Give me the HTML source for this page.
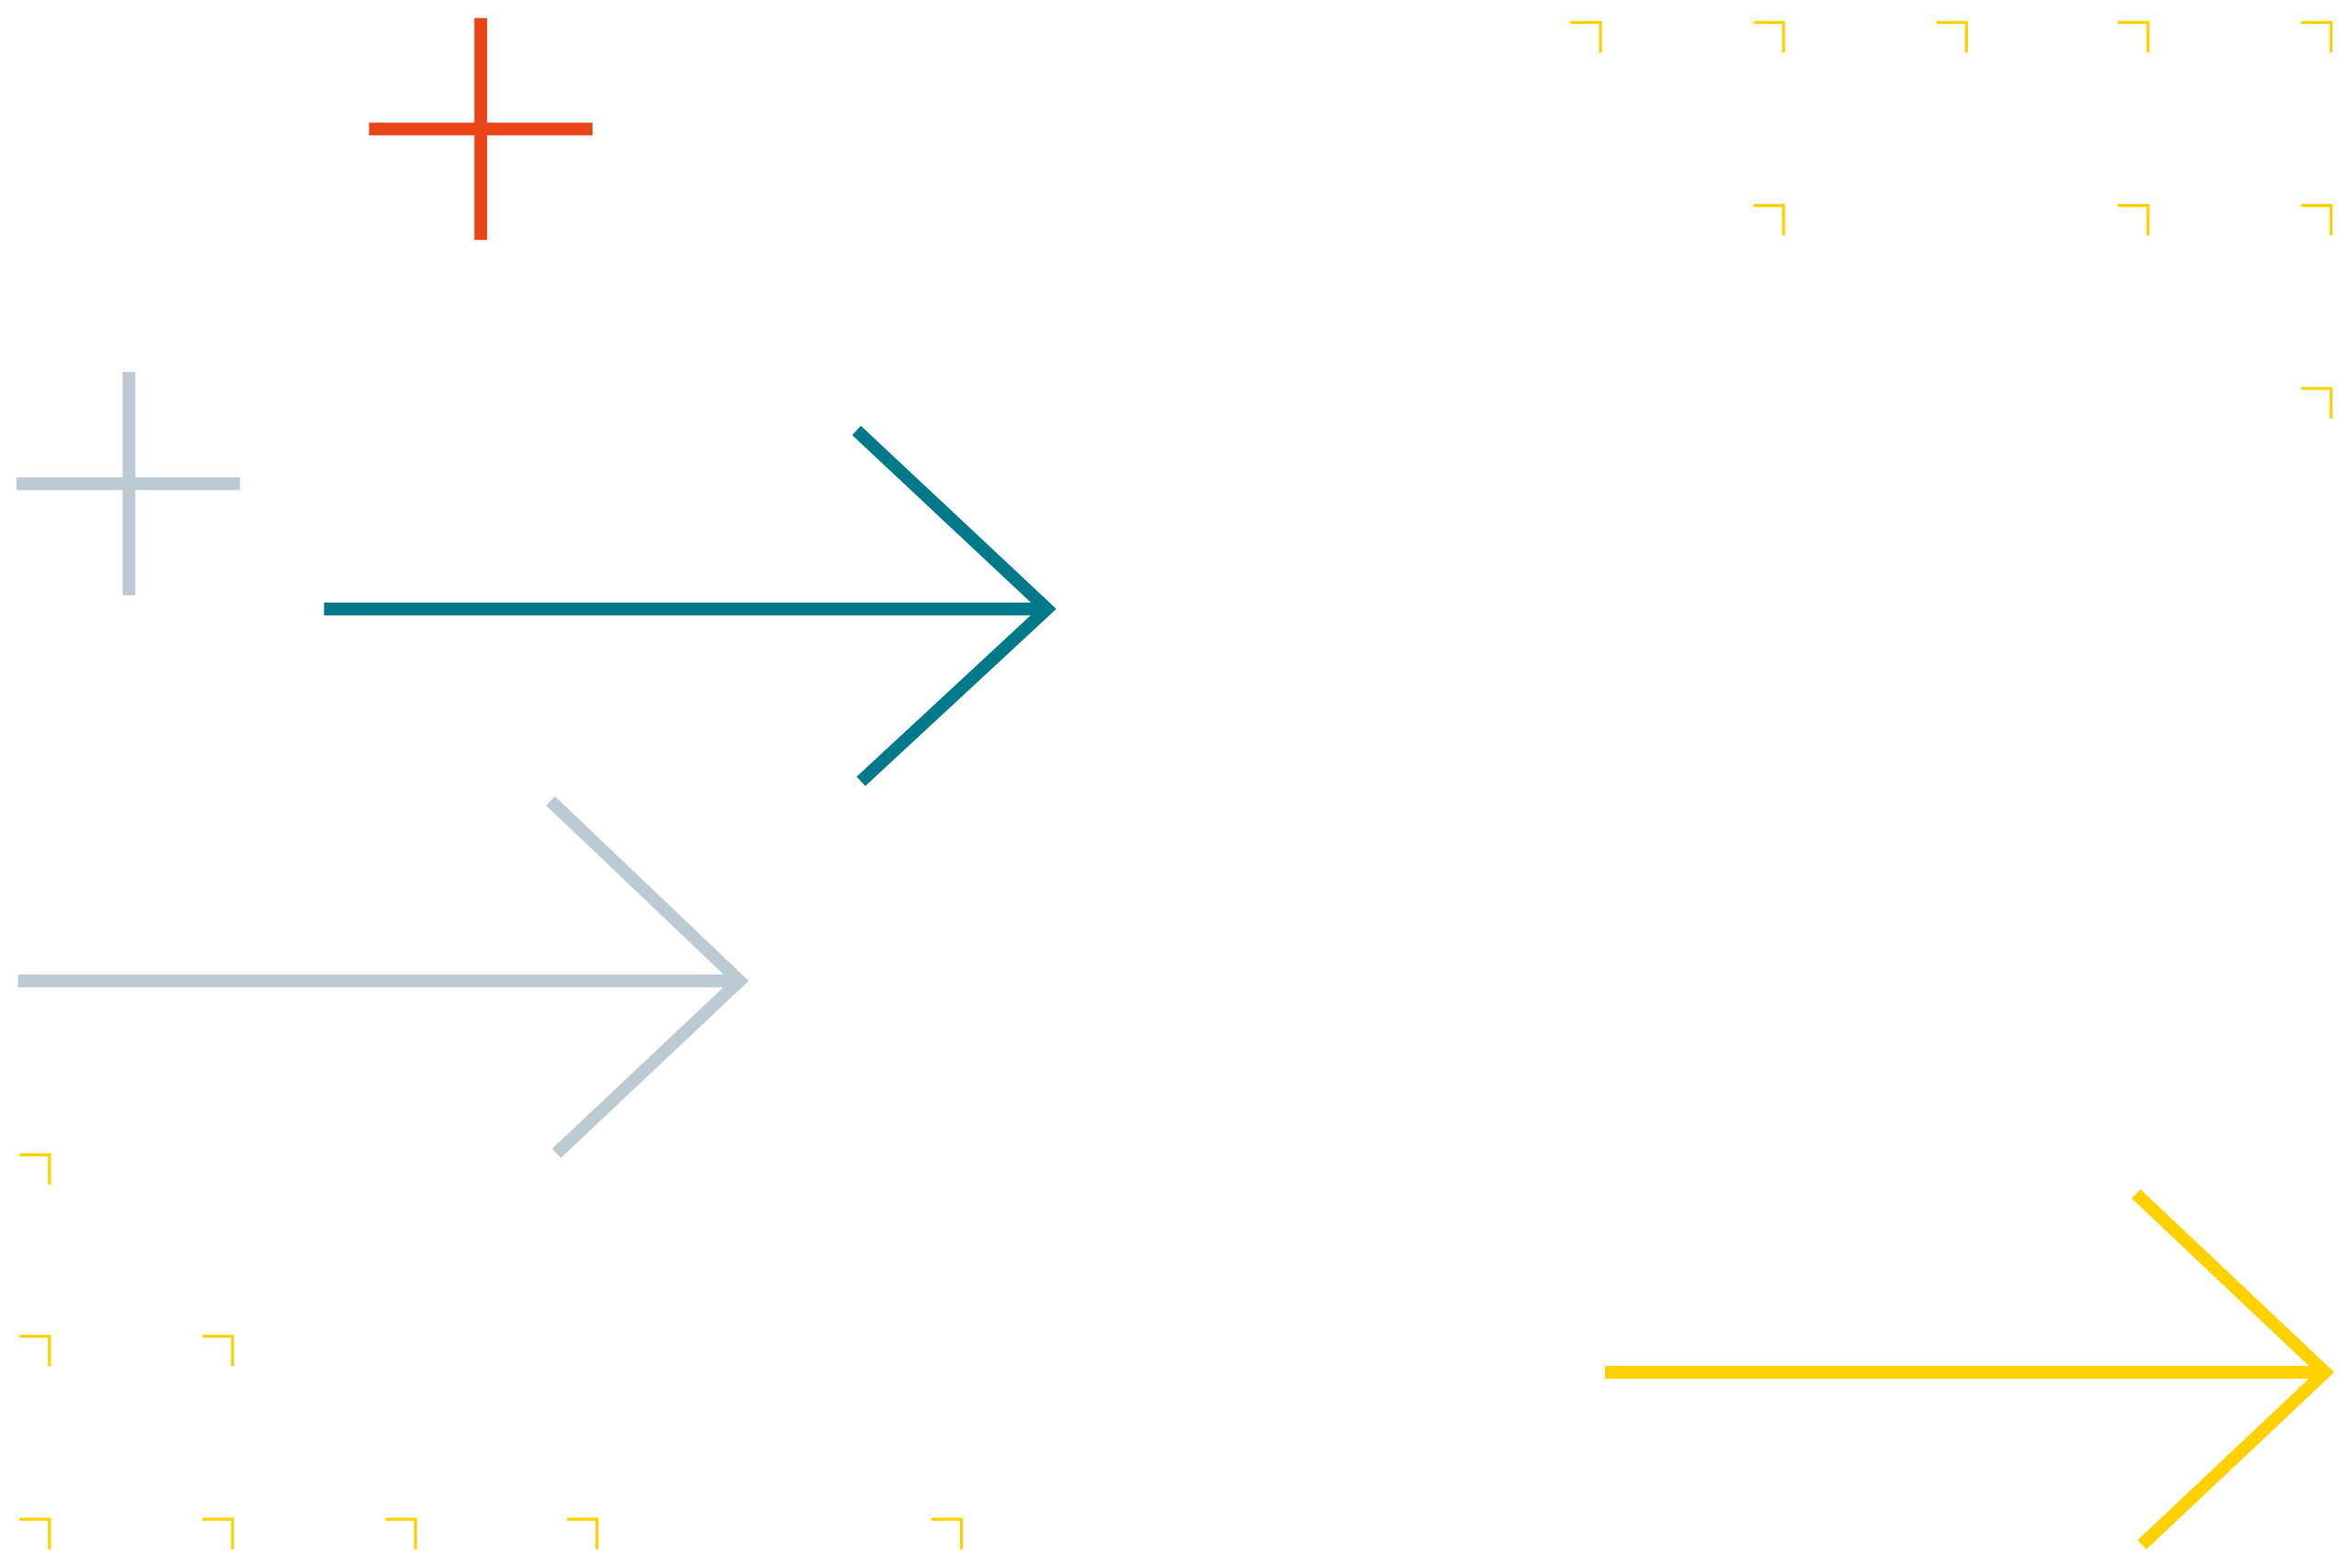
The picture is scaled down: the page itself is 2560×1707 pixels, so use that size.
<!DOCTYPE html>
<html><head><meta charset="utf-8"><style>
html,body{margin:0;padding:0;background:#fff;}
svg{display:block;}
</style></head><body>
<svg width="2560" height="1707" viewBox="0 0 1568 1045.5" preserveAspectRatio="none" xmlns="http://www.w3.org/2000/svg">
<g fill="none" stroke-width="8.5">
<path d="M320.5 12V160M246 86H395" stroke="#E8461A"/>
<path d="M86 248V397M11 322.5H160" stroke="#BCCBD3"/>
<path d="M216 406H698M571 287L698 406L574 521" stroke="#007A8A"/>
<path d="M12 654H493M367 534L493 654L371 769" stroke="#BCCBD3"/>
<path d="M1070 915H1550M1424 796L1550 915L1428 1030" stroke="#FFD100"/>
</g>
<g fill="none" stroke="#FFD100" stroke-width="2">
<path d="M1047 15H1067V35M1169 15H1189V35M1291 15H1311V35M1412 15H1432V35M1534 15H1554V35"/>
<path d="M1169 137H1189V157M1412 137H1432V157M1534 137H1554V157"/>
<path d="M1534 259H1554V279"/>
<path d="M13 770H33V790"/>
<path d="M13 891H33V911M135 891H155V911"/>
<path d="M13 1013H33V1033M135 1013H155V1033M257 1013H277V1033M378 1013H398V1033M621 1013H641V1033"/>
</g>
</svg>
</body></html>
